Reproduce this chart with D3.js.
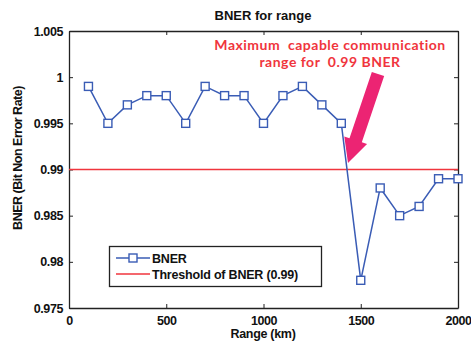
<!DOCTYPE html>
<html><head><meta charset="utf-8">
<script src="https://cdn.jsdelivr.net/npm/d3@7"></script>
<style>
body{margin:0;background:#fff;}
svg{display:block;font-family:"Liberation Sans",Arial,sans-serif;}
</style></head>
<body><svg id="c" width="471" height="343"></svg>
<script>
const ranges = [100,200,300,400,500,600,700,800,900,1000,1100,1200,1300,1400,1500,1600,1700,1800,1900,2000];
const bner = [0.999,0.995,0.997,0.998,0.998,0.995,0.999,0.998,0.998,0.995,0.998,0.999,0.997,0.995,0.978,0.988,0.985,0.986,0.989,0.989];
const threshold = 0.99;
const xTicks = [0,500,1000,1500,2000];
const yTicks = [0.975,0.98,0.985,0.99,0.995,1,1.005];
const yTickLabels = ["0.975","0.98","0.985","0.99","0.995","1","1.005"];
const title = "BNER for range";
const xLabel = "Range (km)";
const yLabel = "BNER (Bit Non Error Rate)";
const legendLabels = ["BNER","Threshold of BNER (0.99)"];
const annotation = ["Maximum  capable communication","range for  0.99 BNER"];

const svg = d3.select("#c");
const L=69, R=458, T=31, B=308;
const x = d3.scaleLinear().domain([0,2000]).range([L,R]);
const y = d3.scaleLinear().domain([0.975,1.005]).range([B,T]);
const blue="#3a5cb5", red="#f0353d";

// axes
const ax = svg.append("g").attr("transform",`translate(0,${B})`)
  .call(d3.axisBottom(x).tickValues(xTicks).tickSizeInner(-4).tickSizeOuter(0).tickPadding(8).tickFormat(d3.format("d")));
const axT = svg.append("g").attr("transform",`translate(0,${T})`)
  .call(d3.axisTop(x).tickValues(xTicks).tickSizeInner(-4).tickSizeOuter(0).tickFormat(""));
const ay = svg.append("g").attr("transform",`translate(${L},0)`)
  .call(d3.axisLeft(y).tickValues(yTicks).tickSizeInner(-4).tickSizeOuter(0).tickPadding(6)
    .tickFormat((d,i)=>yTickLabels[i]));
const ayR = svg.append("g").attr("transform",`translate(${R},0)`)
  .call(d3.axisRight(y).tickValues(yTicks).tickSizeInner(-4).tickSizeOuter(0).tickFormat(""));
[ax,axT,ay,ayR].forEach(g=>{
  g.selectAll("path").attr("stroke","#222").attr("stroke-width",1.3);
  g.selectAll("line").attr("stroke","#222");
  g.selectAll("text").attr("fill","#111").style("font-family","Liberation Sans, Arial, sans-serif")
    .style("font-weight","bold").style("font-size","12.5px").style("letter-spacing","-0.4px");
});

// threshold
svg.append("line").attr("x1",x(0)).attr("x2",x(2000)).attr("y1",y(threshold)).attr("y2",y(threshold))
  .attr("stroke",red).attr("stroke-width",1.3);

// series
const data = ranges.map((r,i)=>({r,v:bner[i]}));
svg.append("path").datum(data)
  .attr("d",d3.line().x(d=>x(d.r)).y(d=>y(d.v)))
  .attr("fill","none").attr("stroke",blue).attr("stroke-width",1.5);
svg.selectAll("rect.m").data(data).join("rect").attr("class","m")
  .attr("x",d=>x(d.r)-4).attr("y",d=>y(d.v)-4).attr("width",8).attr("height",8)
  .attr("fill","#fff").attr("stroke",blue).attr("stroke-width",1.4);

// title & labels
svg.append("text").attr("x",263).attr("y",20).attr("text-anchor","middle")
  .attr("font-weight","bold").attr("font-size","13px").attr("fill","#111").text(title);
svg.append("text").attr("x",263).attr("y",338).attr("text-anchor","middle")
  .attr("font-weight","bold").attr("font-size","12.5px").attr("fill","#111").attr("letter-spacing","-0.3px").text(xLabel);
svg.append("text").attr("transform","translate(22,158) rotate(-90)").attr("text-anchor","middle")
  .attr("font-weight","bold").attr("font-size","12.5px").attr("fill","#111").attr("letter-spacing","-0.5px").text(yLabel);

// annotation
annotation.forEach((t,i)=>{
  svg.append("text").attr("x",330).attr("y",49.5+i*17).attr("text-anchor","middle")
    .style("white-space","pre")
    .attr("font-family","Lato, sans-serif").attr("font-weight","bold").attr("font-size","14px")
    .attr("letter-spacing","0.5px").attr("fill",red).text(t);
});
// arrow
const tail=[378,74], tip=[348,163];
const ang=Math.atan2(tip[1]-tail[1],tip[0]-tail[0]);
const len=Math.hypot(tip[0]-tail[0],tip[1]-tail[1]);
const sw=6.5, hw=12, hl=24;
const pts=[[0,-sw],[len-hl,-sw],[len-hl,-hw],[len,0],[len-hl,hw],[len-hl,sw],[0,sw]]
  .map(([a,b])=>[tail[0]+a*Math.cos(ang)-b*Math.sin(ang), tail[1]+a*Math.sin(ang)+b*Math.cos(ang)]);
svg.append("polygon").attr("points",pts.map(p=>p.join(",")).join(" ")).attr("fill","#ec2473");

// legend
const lg = svg.append("g");
lg.append("rect").attr("x",109.5).attr("y",246.5).attr("width",212).attr("height",40)
  .attr("fill","#fff").attr("stroke","#222").attr("stroke-width",1.3);
lg.append("line").attr("x1",116).attr("x2",150).attr("y1",258).attr("y2",258).attr("stroke",blue).attr("stroke-width",1.5);
lg.append("rect").attr("x",129).attr("y",254).attr("width",8).attr("height",8).attr("fill","#fff").attr("stroke",blue).attr("stroke-width",1.4);
lg.append("line").attr("x1",116).attr("x2",150).attr("y1",274).attr("y2",274).attr("stroke",red).attr("stroke-width",1.3);
legendLabels.forEach((t,i)=>{
  lg.append("text").attr("x",152).attr("y",263+i*16).attr("font-weight","bold").attr("font-size","12.5px")
    .attr("fill","#111").attr("letter-spacing","-0.2px").text(t);
});
</script></body></html>
